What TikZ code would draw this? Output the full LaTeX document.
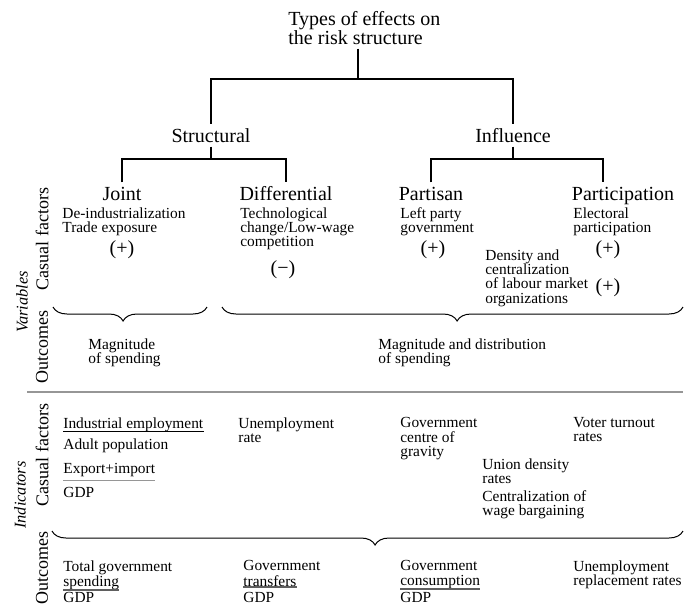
\documentclass[tikz,border=0pt]{standalone}
\usepackage{fontspec}
\setmainfont{Liberation Serif}
\usetikzlibrary{decorations.pathreplacing}
\definecolor{rulegray}{RGB}{150,150,150}
\definecolor{bargray}{RGB}{95,95,95}

\begin{document}
\begin{tikzpicture}[
    x=0.5pt, y=-0.5pt,
    head/.style={font=\fontsize{10}{9.3}\selectfont, inner sep=2pt, anchor=base},
    txt/.style={font=\fontsize{7.7}{7.2}\selectfont, align=left, inner sep=0pt, anchor=north west},
    sign/.style={font=\fontsize{10}{11}\selectfont, inner sep=0pt},
    side/.style={font=\fontsize{9}{10}\selectfont, rotate=90, inner sep=0pt},
    sidegroup/.style={font=\fontsize{8.2}{10}\selectfont\itshape, rotate=90, inner sep=0pt},
    tree/.style={line width=0.55pt},
    curly/.style={decorate, decoration={brace, amplitude=7pt, aspect=#1}, line width=0.5pt},
    curly/.default=0.5,
    fracbar/.style={line width=0.6pt},
    sepline/.style={rulegray, line width=1pt},
]
  \useasboundingbox (0,0) rectangle (685,612);

  % tree of effect types
  \node[head, anchor=north west, align=left] (title) at (284,7) {Types of effects on\\the risk structure};
  \node[head] (struct) at (211,142) {Structural};
  \node[head] (infl) at (513,142) {Influence};
  \node[head] (joint) at (122,200) {Joint};
  \node[head] (diff) at (286,200) {Differential};
  \node[head] (part) at (431,200) {Partisan};
  \node[head] (partic) at (623,200) {Participation};
  \coordinate (tsplit) at (358,79);
  \coordinate (ssplit) at (211,159);
  \coordinate (isplit) at (513,159);
  \coordinate (pstub) at (603,159);
  \draw[tree] (title.south -| tsplit) -- (tsplit);
  \draw[tree] (struct.north) |- (tsplit) -| (infl.north);
  \draw[tree] (struct.south) -- (ssplit);
  \draw[tree] (joint.north) |- (ssplit) -| (diff.north);
  \draw[tree] (infl.south) -- (isplit);
  \draw[tree] (part.north) |- (isplit) -| (partic.north -| pstub);

  % variables: causal factors
  \node[txt] (jointf) at (62,207) {De-industrialization\\Trade exposure};
  \node[txt] (difff) at (240,207) {Technological\\change/Low-wage\\competition};
  \node[txt] (partf) at (400,207) {Left party\\government};
  \node[txt] (particf) at (573,207) {Electoral\\participation};
  \node[txt] (labf) at (485,249) {Density and\\centralization\\of labour market\\organizations};
  \node[sign] (jsign) at (122,250) {(+)};
  \node[sign] (dsign) at (283,270) {(−)};
  \node[sign] (psign) at (433,250) {(+)};
  \node[sign] (esign) at (608,250) {(+)};
  \node[sign] (lsign) at (608,288) {(+)};

  % variables: outcomes
  \coordinate (bl1) at (53,307);
  \coordinate (br1) at (207,307);
  \coordinate (bl2) at (222,307);
  \coordinate (br2) at (683,307);
  \draw[curly=0.545] (br1) -- (bl1);
  \draw[curly=0.49] (br2) -- (bl2);
  \node[txt] (jointo) at (88,338) {Magnitude\\of spending};
  \node[txt] (inflo) at (378,338) {Magnitude and distribution\\of spending};

  % side labels
  \node[side] (vcf) at (42,239) {Casual factors};
  \node[side] (vout) at (42,347) {Outcomes};
  \node[sidegroup] (var) at (22,302) {Variables};
  \node[side] (icf) at (42,455) {Casual factors};
  \node[side] (iout) at (42,568) {Outcomes};
  \node[sidegroup] (ind) at (20,495) {Indicators};

  \coordinate (sepl) at (27,392);
  \coordinate (sepr) at (683,392);
  \draw[sepline] (sepl) -- (sepr);

  % indicators: causal factors
  \node[txt] (indemp) at (63,417) {Industrial employment};
  \node[txt] (adpop) at (63,438) {Adult population};
  \draw[fracbar] (indemp.south west) -- (indemp.south east);
  \node[txt] (expimp) at (63,463) {Export+import};
  \node[txt] (gdpa) at (63,487) {GDP};
  \draw[fracbar, rulegray] ([yshift=-1.5pt]expimp.south west) -- ([yshift=-1.5pt]expimp.south east);
  \node[txt] (unemp) at (238,417) {Unemployment\\rate};
  \node[txt] (gcentre) at (400,417) {Government\\centre of\\gravity};
  \node[txt] (voter) at (573,417) {Voter turnout\\rates};
  \node[txt] (union) at (482,458) {Union density\\rates};
  \node[txt] (central) at (482,490) {Centralization of\\wage bargaining};

  % indicators: outcomes
  \coordinate (bl3) at (52,531);
  \coordinate (br3) at (683,531);
  \draw[curly=0.488] (br3) -- (bl3);
  \node[txt] (totgov) at (63,560) {Total government};
  \node[txt] (spend) at (63,575) {spending};
  \node[txt] (gdpb) at (63,592) {GDP};
  \draw[fracbar, bargray, line width=0.9pt] (spend.south west) -- (spend.south east);
  \node[txt] (gtrans) at (243,560) {Government};
  \node[txt] (trans) at (243,575) {transfers};
  \node[txt] (gdpc) at (243,592) {GDP};
  \draw[fracbar, bargray, line width=0.9pt] (trans.south west) -- (trans.south east);
  \node[txt] (gcons) at (400,560) {Government};
  \node[txt] (cons) at (400,575) {consumption};
  \node[txt] (gdpd) at (400,592) {GDP};
  \draw[fracbar, bargray, line width=0.9pt] (cons.south west) -- (cons.south east);
  \node[txt] (unrepl) at (573,560) {Unemployment\\replacement rates};
\end{tikzpicture}
\end{document}
